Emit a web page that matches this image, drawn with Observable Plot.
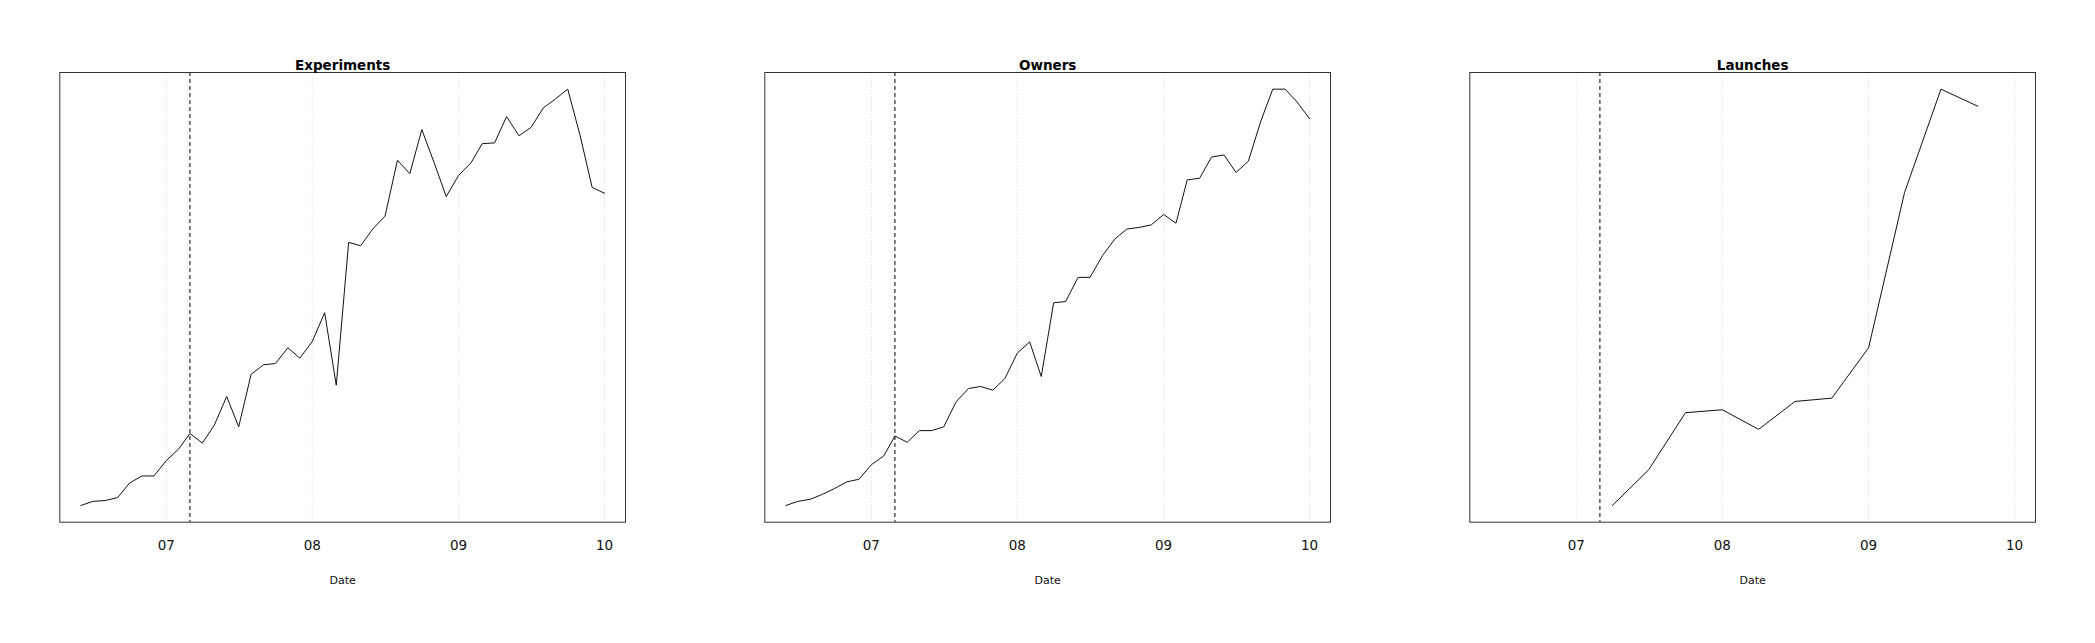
<!DOCTYPE html>
<html>
<head>
<meta charset="utf-8">
<script src="https://cdn.jsdelivr.net/npm/d3@7"></script>
<script src="https://cdn.jsdelivr.net/npm/@observablehq/plot@0.6"></script>
<style>
  html, body { margin: 0; padding: 0; background: #fff; overflow: hidden; }
  #wrap { position: relative; width: 2095px; height: 643px; background: #fff; }
  #wrap svg { position: absolute; top: 0; }
</style>
</head>
<body>
<div id="wrap"></div>
<script>
// ---- data (relative index values; no y axis in the original) ----
const months = [
  "2006-06","2006-07","2006-08","2006-09","2006-10","2006-11","2006-12",
  "2007-01","2007-02","2007-03","2007-04","2007-05","2007-06","2007-07","2007-08","2007-09","2007-10","2007-11","2007-12",
  "2008-01","2008-02","2008-03","2008-04","2008-05","2008-06","2008-07","2008-08","2008-09","2008-10","2008-11","2008-12",
  "2009-01","2009-02","2009-03","2009-04","2009-05","2009-06","2009-07","2009-08","2009-09","2009-10","2009-11","2009-12",
  "2010-01"
];
const experiments = [
  0, 1.0, 1.2, 1.9, 5.4, 7.1, 7.1,
  10.8, 13.6, 17.3, 15.0, 19.3, 26.2, 18.9, 31.5, 33.8, 34.1, 37.9, 35.4,
  39.4, 46.3, 28.9, 63.2, 62.4, 66.5, 69.5, 82.9, 79.7, 90.3, 82.3, 74.2,
  79.3, 82.3, 86.9, 87.1, 93.4, 88.8, 90.8, 95.5, 97.7, 100, 88.8, 76.4,
  75.0
];
const owners = [
  0, 1.0, 1.5, 2.7, 4.1, 5.7, 6.3,
  9.8, 11.9, 16.7, 15.2, 18.0, 18.0, 18.9, 24.9, 28.1, 28.6, 27.7, 30.5,
  36.6, 39.3, 31.0, 48.7, 49.0, 54.8, 54.8, 60.0, 64.0, 66.4, 66.8, 67.4,
  69.9, 67.8, 78.2, 78.6, 83.7, 84.2, 80.0, 82.7, 92.3, 100, 100, 96.9,
  92.9
];
const launchQuarters = [
  "2007-04","2007-07","2007-10","2008-01","2008-04","2008-07",
  "2008-10","2009-01","2009-04","2009-07","2009-10"
];
const launches = [0, 8.6, 22.3, 23.0, 18.3, 25.0, 25.8, 37.9, 75.2, 100, 95.9];

const yearTicks = ["2007-01-01","2008-01-01","2009-01-01","2010-01-01"];
const markerDate = "2007-03-01";
const panelTitles = ["Experiments", "Owners", "Launches"];
const xLabel = "Date";

// ---- helpers ----
const toDate = s => new Date((s.length === 7 ? s + "-01" : s) + "T00:00:00Z");
const allDates = months.map(toDate);
const [xMin, xMax] = d3.extent(allDates);
const xPad = (xMax - xMin) * 0.04;
const xDomain = [new Date(+xMin - xPad), new Date(+xMax + xPad)];
const ticks = yearTicks.map(toDate);
const marker = toDate(markerDate);

const FRAME_W = 565.7, LEFT = 59.3, TOP = 72, BOTTOM = 521.7, H = 643;

function panel(title, dates, values, width) {
  const data = dates.map((d, i) => ({date: toDate(d), value: values[i]}));
  const [y0, y1] = d3.extent(values);
  const yPad = (y1 - y0) * 0.04;
  return Plot.plot({
    width, height: H,
    marginLeft: LEFT, marginRight: width - LEFT - FRAME_W,
    marginTop: TOP, marginBottom: H - BOTTOM,
    x: {type: "utc", domain: xDomain},
    y: {domain: [y0 - yPad, y1 + yPad], axis: null},
    style: {fontFamily: "DejaVu Sans, Liberation Sans, sans-serif", background: "white", color: "black", overflow: "visible"},
    marks: [
      Plot.ruleX(ticks, {stroke: "#dcdcdc", strokeDasharray: "1,2", strokeWidth: 1}),
      Plot.ruleX([marker], {stroke: "black", strokeDasharray: "4,3", strokeWidth: 1}),
      Plot.line(data, {x: "date", y: "value", stroke: "#111", strokeWidth: 1}),
      Plot.frame({stroke: "#333", strokeWidth: 1}),
      Plot.axisX({ticks, tickFormat: "%y", tickSize: 0, tickPadding: 18, fontSize: 13.5, label: null, fill: "#111"}),
      Plot.text([title], {frameAnchor: "top", lineAnchor: "middle", dy: -6.5, fontWeight: "bold", fontSize: 13.5, fill: "black"}),
      Plot.text([xLabel], {frameAnchor: "bottom", lineAnchor: "middle", dy: 58, fontSize: 11, fill: "#111"})
    ]
  });
}

const wrap = document.getElementById("wrap");
const specs = [
  [panelTitles[0], months, experiments, 705, 0],
  [panelTitles[1], months, owners, 705, 705],
  [panelTitles[2], launchQuarters, launches, 685, 1410]
];
for (const [t, d, v, w, x] of specs) {
  const svg = panel(t, d, v, w);
  svg.style.left = x + "px";
  wrap.appendChild(svg);
}
</script>
</body>
</html>
